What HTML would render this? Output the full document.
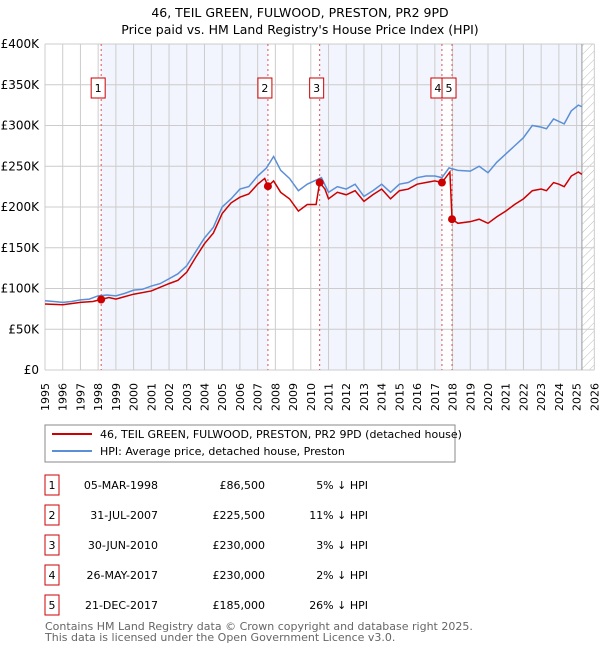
<!DOCTYPE html>
<html><head><meta charset="utf-8">
<style>
body{margin:0;background:#fff;font-family:"DejaVu Sans","Liberation Sans",sans-serif;}
svg text{font-family:"DejaVu Sans","Liberation Sans",sans-serif;}
</style></head>
<body>
<svg id="chart" width="600" height="650" viewBox="0 0 600 650" xmlns="http://www.w3.org/2000/svg">
<defs>
<pattern id="hatch" patternUnits="userSpaceOnUse" width="6" height="6" patternTransform="rotate(45)">
<line x1="0" y1="0" x2="0" y2="6" stroke="#bbb" stroke-width="1"/>
</pattern>
</defs>
<text x="300" y="17" text-anchor="middle" font-size="12.5">46, TEIL GREEN, FULWOOD, PRESTON, PR2 9PD</text>
<text x="300" y="34" text-anchor="middle" font-size="12.5">Price paid vs. HM Land Registry's House Price Index (HPI)</text>
<g id="plot"></g>
<g>
<rect x="45" y="425" width="410" height="37" fill="#fff" stroke="#888"/>
<line x1="52" y1="434" x2="92" y2="434" stroke="#cc0000" stroke-width="2"/>
<text x="100" y="438" font-size="11">46, TEIL GREEN, FULWOOD, PRESTON, PR2 9PD (detached house)</text>
<line x1="52" y1="451" x2="92" y2="451" stroke="#5b8fd6" stroke-width="2"/>
<text x="100" y="455" font-size="11">HPI: Average price, detached house, Preston</text>
</g>
<g id="table"></g>
<text x="45" y="630" font-size="11" fill="#666">Contains HM Land Registry data © Crown copyright and database right 2025.</text>
<text x="45" y="641" font-size="11" fill="#666">This data is licensed under the Open Government Licence v3.0.</text>
</svg>
<script>
const hpiT=[1995,1995.5,1996,1996.5,1997,1997.5,1998,1998.5,1999,1999.5,2000,2000.5,2001,2001.5,2002,2002.5,2003,2003.5,2004,2004.5,2005,2005.5,2006,2006.5,2007,2007.5,2007.9,2008.3,2008.8,2009.3,2009.8,2010.3,2010.6,2011,2011.5,2012,2012.5,2013,2013.5,2014,2014.5,2015,2015.5,2016,2016.5,2017,2017.4,2017.8,2018.3,2019,2019.5,2020,2020.5,2021,2021.5,2022,2022.5,2023,2023.3,2023.7,2024,2024.3,2024.7,2025.1,2025.3];
const hpiV=[85,84,83,84,86,87,91,92,91,94,98,99,103,106,112,118,128,145,162,175,200,210,222,225,238,248,262,245,235,220,228,233,236,218,225,222,228,213,220,228,218,228,230,236,238,238,236,248,245,244,250,242,255,265,275,285,300,298,296,308,305,302,318,325,323];
const pT=[1995,1996,1997,1997.7,1998.17,1998.6,1999,1999.5,2000,2001,2002,2002.5,2003,2003.5,2004,2004.5,2005,2005.5,2006,2006.5,2007,2007.4,2007.58,2007.9,2008.3,2008.8,2009.3,2009.8,2010.3,2010.5,2010.8,2011,2011.5,2012,2012.5,2013,2013.5,2014,2014.5,2015,2015.5,2016,2016.5,2017,2017.4,2017.85,2017.97,2018.3,2019,2019.5,2020,2020.5,2021,2021.5,2022,2022.5,2023,2023.3,2023.7,2024,2024.3,2024.7,2025.1,2025.3];
const pV=[81,80,83,84,86.5,89,87,90,93,97,106,110,120,138,155,168,192,205,212,216,228,235,225.5,232,218,210,195,203,203,230,222,210,218,215,220,207,215,222,210,220,222,228,230,232,230,243,185,180,182,185,180,188,195,203,210,220,222,220,230,228,225,238,243,240];
const saleT=[1998.17,2007.58,2010.5,2017.4,2017.97];
const saleV=[86.5,225.5,230,230,185];
const saleDates=["05-MAR-1998","31-JUL-2007","30-JUN-2010","26-MAY-2017","21-DEC-2017"];
const salePrices=["£86,500","£225,500","£230,000","£230,000","£185,000"];
const salePct=["5%","11%","3%","2%","26%"];
const yTicks=[0,50,100,150,200,250,300,350,400];
const yLabels=["£0","£50K","£100K","£150K","£200K","£250K","£300K","£350K","£400K"];
const xYears=[1995,1996,1997,1998,1999,2000,2001,2002,2003,2004,2005,2006,2007,2008,2009,2010,2011,2012,2013,2014,2015,2016,2017,2018,2019,2020,2021,2022,2023,2024,2025,2026];
const dataEnd=2025.3;

const X0=45,PX=17.72,Y0=370,PY=326/400;
const xs=t=>X0+(t-1995)*PX;
const ys=v=>Y0-v*PY;
const NS="http://www.w3.org/2000/svg";
const plot=document.getElementById('plot');
function mk(tag,attrs,parent){const e=document.createElementNS(NS,tag);for(const k in attrs)e.setAttribute(k,attrs[k]);(parent||plot).appendChild(e);return e;}
const xEnd=xs(2026);
const bg=mk('rect',{x:X0,y:ys(400),width:xEnd-X0,height:Y0-ys(400),fill:'#fff'});


const bands=[[saleT[0],saleT[1]],[saleT[2],saleT[3]],[saleT[4],dataEnd]];
bands.forEach(b=>{const r=mk('rect',{x:xs(b[0]),y:ys(400),width:xs(b[1])-xs(b[0]),height:Y0-ys(400),fill:'#f2f5fd'});

});
const h=mk('rect',{x:xs(dataEnd),y:ys(400),width:xEnd-xs(dataEnd),height:Y0-ys(400),fill:'url(#hatch)'});


xYears.forEach(y=>{const l=mk('line',{x1:xs(y),x2:xs(y),y1:ys(400),y2:Y0,stroke:'#ccc','stroke-width':1});


const t=mk('text',{x:xs(y)+4,y:383,'font-size':11,'text-anchor':'end',transform:`rotate(-90 ${xs(y)+4} 383)`});t.textContent=y;

});
yTicks.forEach((v,i)=>{const l=mk('line',{x1:X0,x2:xEnd,y1:ys(v),y2:ys(v),stroke:'#ccc','stroke-width':1});


const t=mk('text',{x:X0-6,y:ys(v)+4,'font-size':12,'text-anchor':'end'});t.textContent=yLabels[i];

});
const el=mk('line',{x1:xs(dataEnd),x2:xs(dataEnd),y1:ys(400),y2:Y0,stroke:'#999','stroke-width':1});


saleT.forEach(t=>{const l=mk('line',{x1:xs(t),x2:xs(t),y1:ys(400),y2:Y0,stroke:'#e05050','stroke-width':1,'stroke-dasharray':'2,3'});

});
const hp=mk('polyline',{points:hpiT.map((t,i)=>xs(t)+','+ys(hpiV[i])).join(' '),fill:'none',stroke:'#5b8fd6','stroke-width':1.5});


const pp=mk('polyline',{points:pT.map((t,i)=>xs(t)+','+ys(pV[i])).join(' '),fill:'none',stroke:'#cc0000','stroke-width':1.5});


saleT.forEach((t,i)=>{const c=mk('circle',{cx:xs(t),cy:ys(saleV[i]),r:4,fill:'#cc0000'});

});
const boxOff=[-3,-3,-3,-4,-3];
saleT.forEach((t,i)=>{const cx=xs(t)+boxOff[i];const g=mk('g',{});


mk('rect',{x:cx-7,y:78,width:14,height:20,fill:'#fff',stroke:'#cc0000'},g);
const tx=mk('text',{x:cx,y:92,'font-size':11,'text-anchor':'middle'},g);tx.textContent=i+1;});
const tb=document.getElementById('table');
saleT.forEach((t,i)=>{const y=483+i*30;const g=mk('g',{},tb);


mk('rect',{x:45,y:y-8,width:14,height:20,fill:'#fff',stroke:'#cc0000'},g);
const n=mk('text',{x:52,y:y+6,'font-size':11,'text-anchor':'middle'},g);n.textContent=i+1;
const d=mk('text',{x:158,y:y+6,'font-size':11,'text-anchor':'end'},g);d.textContent=saleDates[i];
const p=mk('text',{x:265,y:y+6,'font-size':11,'text-anchor':'end'},g);p.textContent=salePrices[i];
const c=mk('text',{x:368,y:y+6,'font-size':11,'text-anchor':'end'},g);c.textContent=salePct[i]+' ↓ HPI';});
</script>
</body></html>
